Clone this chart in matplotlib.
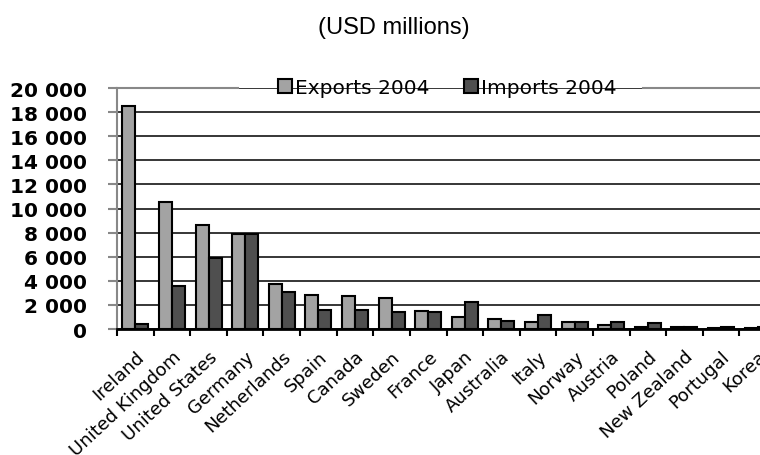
import numpy as np
import matplotlib
matplotlib.use("Agg")
import matplotlib.pyplot as plt
import matplotlib.transforms as mtransforms
from matplotlib.ticker import FuncFormatter, FixedLocator

countries = ["Ireland", "United Kingdom", "United States", "Germany", "Netherlands",
             "Spain", "Canada", "Sweden", "France", "Japan", "Australia", "Italy",
             "Norway", "Austria", "Poland", "New Zealand", "Portugal", "Korea"]
exports_2004 = [18500, 10550, 8600, 7900, 3700, 2800, 2700, 2550, 1500, 1000,
                800, 550, 550, 300, 200, 200, 100, 50]
imports_2004 = [400, 3600, 5900, 7900, 3100, 1600, 1600, 1450, 1400, 2200,
                700, 1200, 550, 550, 500, 200, 200, 200]

fig = plt.figure(figsize=(7.6, 4.56), dpi=100)
# plot area runs past the right edge of the figure
ax = fig.add_axes([0.154, 0.2763, 0.867, 0.5285])

x = np.arange(len(countries))
w = 0.355
ax.bar(x - w / 2, exports_2004, w, color="#a3a3a3", edgecolor="black", linewidth=1.5,
       label="Exports 2004", zorder=3)
ax.bar(x + w / 2, imports_2004, w, color="#4f4f4f", edgecolor="black", linewidth=1.5,
       label="Imports 2004", zorder=3)

ax.set_xlim(-0.5, len(countries) - 0.5)
ax.set_ylim(0, 20000)
ax.set_yticks(np.arange(0, 20001, 2000))
ax.yaxis.set_major_formatter(FuncFormatter(lambda v, p: f"{int(v):,}".replace(",", " ")))
ax.yaxis.grid(True, color="black", linewidth=1.1, zorder=0)
ax.set_axisbelow(True)

ax.set_xticks(x)
ax.set_xticklabels(countries, rotation=43, ha="right", rotation_mode="anchor",
                   fontsize=13, color="black")
shift = mtransforms.ScaledTranslation(6 / 100, 0, fig.dpi_scale_trans)
for lab in ax.get_xticklabels():
    lab.set_transform(lab.get_transform() + shift)
ax.xaxis.set_minor_locator(FixedLocator(np.arange(-0.5, len(countries), 1)))
ax.tick_params(axis="x", which="major", length=0, pad=13)
ax.tick_params(axis="x", which="minor", length=5, width=1.5, color="black", direction="out")
ax.tick_params(axis="y", length=6.5, width=1.5, color="#888888", pad=15)
for lab in ax.get_yticklabels():
    lab.set_fontsize(14.5)
    lab.set_fontweight("bold")
    lab.set_family("DejaVu Sans")

for side in ["top", "right"]:
    ax.spines[side].set_visible(False)
ax.spines["left"].set_color("#888888")
ax.spines["left"].set_linewidth(1.5)
ax.spines["bottom"].set_color("black")
ax.spines["bottom"].set_linewidth(2)

# top frame line, broken where the legend sits
ax.plot([0, 0.184], [1, 1], transform=ax.transAxes, color="#888888", lw=1.5, clip_on=False)
ax.plot([0.798, 1], [1, 1], transform=ax.transAxes, color="#888888", lw=1.5, clip_on=False)

leg = ax.legend(loc="center", bbox_to_anchor=(0.589, 0.805), bbox_transform=fig.transFigure,
                ncol=2, frameon=False, prop={"size": 14.5, "weight": "medium"},
                handlelength=0.7, handleheight=0.7,
                handletextpad=0.15, columnspacing=1.7, borderpad=0.2)

fig.text(0.518, 0.938, "(USD millions)", ha="center", va="center",
         fontsize=17, family="Liberation Sans")

fig.savefig("out.png", dpi=100)
